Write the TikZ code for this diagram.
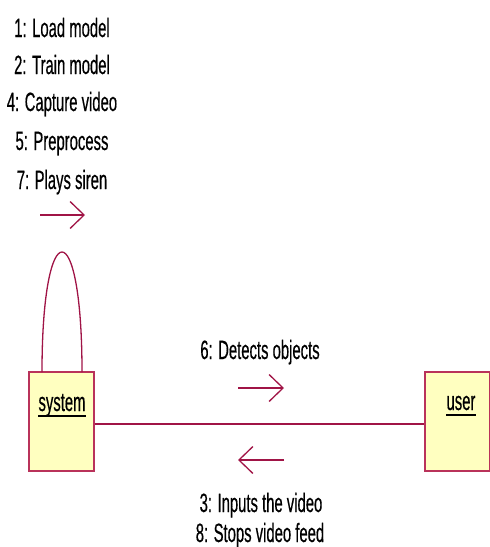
\documentclass[tikz,border=0pt]{standalone}
\usepackage{fontspec}
\setmainfont{Liberation Sans}[FakeStretch=0.56,FakeBold=0.4]
\usetikzlibrary{arrows.meta}
\definecolor{linkred}{RGB}{160,20,70}
\definecolor{boxedge}{RGB}{185,50,90}
\definecolor{boxfill}{RGB}{255,255,192}
\begin{document}
\begin{tikzpicture}[x=1pt,y=-1pt,
  objbox/.style={draw=boxedge,fill=boxfill,line width=1.4pt,minimum width=65pt,minimum height=99pt,inner sep=0pt},
  msgtext/.style={font=\fontsize{26.5}{30}\selectfont,anchor=base,inner sep=0pt},
  objname/.style={font=\fontsize{26.5}{30}\selectfont,anchor=base,inner sep=0pt},
  link/.style={draw=linkred,line width=1.3pt},
  msgarrow/.style={draw=linkred,line width=1.3pt,-{Straight Barb[length=14pt,width=27pt,line width=1.3pt]}}]
\useasboundingbox (0,0) rectangle (490,547);

% objects
\node[objbox] (sys) at (61.5,421.5) {};
\node[objbox] (usr) at (457.5,421.5) {};
\node[objname] (syslab) at (62,411) {system};
\node[objname] (usrlab) at (461,410) {user};
\draw[line width=1.8pt] ([yshift=-5pt]syslab.base west) -- ([yshift=-5pt]syslab.base east);
\draw[line width=1.8pt] ([yshift=-5pt]usrlab.base west) -- ([yshift=-5pt]usrlab.base east);

% link between the objects
\draw[link] (sys.east |- 0,424) -- (usr.west |- 0,424);

% self link on system
\coordinate (loopL) at (42,372);
\coordinate (loopR) at (82,372);
\draw[link] (loopL) .. controls (42,212) and (82,212) .. (loopR);

% self messages
\node[msgtext] (m1) at (62,37) {1: Load model};
\node[msgtext] (m2) at (62,74) {2: Train model};
\node[msgtext] (m4) at (62,111) {4: Capture video};
\node[msgtext] (m5) at (62,150) {5: Preprocess};
\node[msgtext] (m7) at (62,189) {7: Plays siren};
\coordinate (s1) at (40,215);
\coordinate (s2) at (85,215);
\draw[msgarrow] (s1) -- (s2);

% messages system -> user
\node[msgtext] (m6) at (260,359) {6: Detects objects};
\coordinate (f1) at (238,388);
\coordinate (f2) at (284,388);
\draw[msgarrow] (f1) -- (f2);

% messages user -> system
\coordinate (b1) at (284,460);
\coordinate (b2) at (238,460);
\draw[msgarrow] (b1) -- (b2);
\node[msgtext] (m3) at (261,512) {3: Inputs the video};
\node[msgtext] (m8) at (260,542) {8: Stops video feed};
\end{tikzpicture}
\end{document}
